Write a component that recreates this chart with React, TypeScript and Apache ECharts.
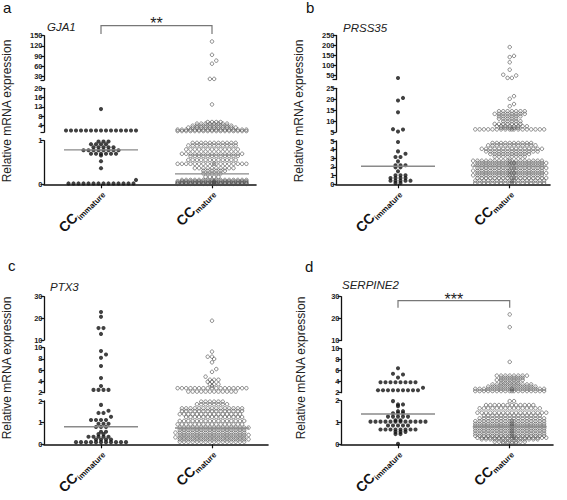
import React, { useEffect, useRef } from 'react';
import * as echarts from 'echarts';

type Row = [number, number]; // [value, number of dots at that value]

// ---------- texts ----------
const PANEL_LETTERS = ['a', 'b', 'c', 'd'];
const GENES = ['GJA1', 'PRSS35', 'PTX3', 'SERPINE2'];
const Y_TITLE = 'Relative mRNA expression';
const CATEGORY_PREFIX = 'CC';
const CATEGORY_KEYS = ['immature', 'mature'];
const SIGNIFICANCE = ['**', '', '', '***'];

// ---------- broken y axes: [min, max] per segment, bottom to top ----------
const GJA1_SEGMENTS = [[0, 1], [1, 20], [20, 150]];
const GJA1_TICKS = [[0, 1], [4, 8, 12, 16, 20], [30, 60, 90, 120, 150]];
const PRSS35_SEGMENTS = [[0, 5], [5, 25], [30, 250]];
const PRSS35_TICKS = [[0, 1, 2, 3, 4, 5], [5, 10, 15, 20, 25], [50, 100, 150, 200, 250]];
const PTX3_SEGMENTS = [[0, 2], [2, 10], [10, 30]];
const PTX3_TICKS = [[0, 1, 2], [2, 4, 6, 8, 10], [10, 20, 30]];
const SERPINE2_SEGMENTS = [[0, 2], [2, 10], [10, 30]];
const SERPINE2_TICKS = [[0, 1, 2], [2, 4, 6, 8, 10], [10, 20, 30]];

// ---------- data: rows of dots ----------
const GJA1_IMMATURE: Row[] = [
  [11, 1], [1.75, 15], [0.98, 3], [0.92, 4], [0.85, 5], [0.78, 8], [0.7, 6], [0.66, 1],
  [0.53, 1], [0.37, 1], [0.1, 1], [0.02, 14],
];
const GJA1_MATURE: Row[] = [
  [133, 1], [94, 1], [77, 1], [68, 1], [23.5, 2], [13, 1], [5.4, 4], [4.7, 8], [3.8, 10],
  [3.0, 12], [2.1, 17], [1.5, 17], [0.95, 11], [0.89, 12], [0.8, 13], [0.7, 15], [0.65, 12],
  [0.56, 12], [0.47, 18], [0.37, 10], [0.31, 6], [0.25, 5], [0.17, 4], [0.1, 16], [0.07, 18],
  [0.045, 18], [0.025, 18], [0.01, 18],
];
const PRSS35_IMMATURE: Row[] = [
  [37.5, 1], [20.6, 1], [19.4, 1], [14, 1], [6.3, 1], [6.1, 1], [5.2, 1], [4.88, 1], [3.8, 1],
  [3.53, 1], [3.15, 2], [2.65, 1], [2.2, 3], [1.96, 2], [1.5, 1], [1.05, 3], [0.73, 4],
  [0.42, 5], [0.15, 2],
];
const PRSS35_MATURE: Row[] = [
  [192, 1], [148, 1], [142, 1], [116, 1], [79, 1], [54, 1], [50, 1], [38, 2], [21.4, 1],
  [20.2, 1], [17.8, 1], [16.8, 1], [14.5, 7], [13.3, 8], [12.2, 6], [11.1, 5], [9.9, 5],
  [8.7, 7], [7.6, 8], [6.9, 5], [6.2, 18], [4.77, 10], [4.5, 12], [4.1, 15], [3.8, 13],
  [3.5, 10], [3.2, 8], [2.72, 18], [2.46, 18], [2.19, 18], [1.88, 18], [1.57, 18], [1.3, 18],
  [1.04, 18], [0.73, 18], [0.42, 18], [0.15, 18],
];
const PTX3_IMMATURE: Row[] = [
  [22.9, 1], [20.7, 1], [15.5, 2], [12.8, 1], [9.4, 1], [8.8, 1], [8.2, 1], [6.75, 1], [4.6, 1],
  [3.2, 1], [2.5, 4], [1.82, 1], [1.55, 1], [1.45, 2], [1.27, 1], [1.12, 4], [0.95, 3],
  [0.8, 3], [0.58, 2], [0.47, 2], [0.35, 5], [0.22, 4], [0.1, 11],
];
const PTX3_MATURE: Row[] = [
  [18.9, 1], [9.3, 1], [8.4, 2], [8.0, 1], [7.4, 1], [6.2, 1], [5.7, 1], [4.85, 1], [4.3, 3],
  [3.95, 2], [3.5, 3], [3.2, 1], [2.8, 17], [2.2, 12], [1.97, 6], [1.85, 8], [1.66, 15],
  [1.54, 15], [1.39, 15], [1.26, 14], [1.08, 16], [0.92, 16], [0.77, 17], [0.66, 16],
  [0.54, 17], [0.43, 17], [0.32, 17], [0.23, 17], [0.12, 16],
];
const SERPINE2_IMMATURE: Row[] = [
  [6.45, 1], [5.45, 1], [5.3, 1], [4.75, 1], [3.9, 8], [2.9, 1], [2.45, 9], [1.98, 1],
  [1.83, 2], [1.75, 1], [1.52, 2], [1.42, 3], [1.27, 5], [1.1, 2], [1.04, 12], [0.86, 5],
  [0.68, 8], [0.57, 3], [0.47, 2], [0.02, 1],
];
const SERPINE2_MATURE: Row[] = [
  [21.9, 1], [16.1, 1], [7.6, 1], [5.1, 8], [4.7, 6], [4.3, 7], [3.85, 5], [3.5, 10], [3.1, 12],
  [2.7, 18], [2.3, 18], [1.98, 2], [1.8, 12], [1.65, 15], [1.45, 17], [1.31, 14], [1.19, 16],
  [1.06, 18], [0.94, 18], [0.84, 18], [0.73, 18], [0.62, 18], [0.5, 18], [0.39, 18], [0.3, 18],
  [0.23, 14], [0.12, 8], [0.05, 4],
];

// medians [immature, mature]
const GJA1_MEDIANS = [0.79, 0.24];
const PRSS35_MEDIANS = [2.08, 2.1];
const PTX3_MEDIANS = [0.81, 0.75];
const SERPINE2_MEDIANS = [1.39, 0.8];

const SEGMENTS = [GJA1_SEGMENTS, PRSS35_SEGMENTS, PTX3_SEGMENTS, SERPINE2_SEGMENTS];
const TICKS = [GJA1_TICKS, PRSS35_TICKS, PTX3_TICKS, SERPINE2_TICKS];
const GROUPS: Row[][][] = [
  [GJA1_IMMATURE, GJA1_MATURE],
  [PRSS35_IMMATURE, PRSS35_MATURE],
  [PTX3_IMMATURE, PTX3_MATURE],
  [SERPINE2_IMMATURE, SERPINE2_MATURE],
];
const MEDIANS = [GJA1_MEDIANS, PRSS35_MEDIANS, PTX3_MEDIANS, SERPINE2_MEDIANS];

// ---------- layout (pixels) ----------
const FONT = '"Liberation Sans", Arial, Helvetica, sans-serif';
const LAYOUT = [
  { axisX: 44, axisEnd: 256, c1: 101, c2: 212, seg: [[184.3, 140.7], [132.2, 88.3], [80.1, 35.7]],
    letter: [3, 7], gene: [47, 27], title: [7, 111], bracket: { y: 25.7, drop: 34, starY: 23.5 } },
  { axisX: 336, axisEnd: 550, c1: 398, c2: 509.7, seg: [[184.3, 141], [132, 88.3], [79.5, 35.5]],
    letter: [306, 7.5], gene: [343, 27.5], title: [299, 111], bracket: null },
  { axisX: 44, axisEnd: 268, c1: 101, c2: 212, seg: [[444.3, 401], [392.7, 347.7], [340, 296.7]],
    letter: [8, 265.5], gene: [50, 287], title: [7, 368], bracket: null },
  { axisX: 341, axisEnd: 553, c1: 398, c2: 509.7, seg: [[444.3, 400.7], [392.7, 348.7], [340.5, 296.7]],
    letter: [305, 266], gene: [342, 285], title: [301, 368], bracket: { y: 300.7, drop: 307.7, starY: 299 } },
];
const DOT = [{ spacing: 5, size: 4.1 }, { spacing: 4.3, size: 3.5 }];
const MAX_HALF = 36;
const MEDIAN_HALF = 37;

function pixelY(p: number, v: number) {
  const segs = SEGMENTS[p];
  for (let s = 0; s < segs.length; s++) {
    if (v <= segs[s][1] || s === segs.length - 1) {
      const [mn, mx] = segs[s];
      const [pb, pt] = LAYOUT[p].seg[s];
      return { s, y: pb - ((v - mn) / (mx - mn)) * (pb - pt) };
    }
  }
  return { s: 0, y: 0 };
}

// beeswarm-like placement of dots in rows (GraphPad style)
function swarm(rows: Row[], p: number, spacing: number) {
  const placed: { x: number; y: number }[] = [];
  const out: { seg: number; value: number; dx: number }[] = [];
  const sorted = [...rows].sort((a, b) => a[0] - b[0]);
  const cost = (x: number, y: number) => {
    let c = 0;
    for (const q of placed) {
      const d = Math.hypot(q.x - x, q.y - y);
      if (d < spacing * 0.92) c += spacing - d;
    }
    return c;
  };
  for (const [v, n] of sorted) {
    const { s, y } = pixelY(p, v);
    if (n >= 2) {
      const perRow = Math.floor((2 * MAX_HALF) / spacing) + 1;
      let best: number[] = [];
      let bestCost = Infinity;
      for (const shift of [0, spacing / 2, -spacing / 2]) {
        const xs: number[] = [];
        for (let i = 0; i < n; i++) {
          const line = Math.floor(i / perRow);
          const k = i % perRow;
          const m = Math.min(perRow, n - line * perRow);
          xs.push((k - (m - 1) / 2) * spacing + shift + (line % 2 ? spacing / 2 : 0));
        }
        const c = xs.reduce((acc, x) => acc + cost(x, y), 0);
        if (c < bestCost - 1e-6) {
          bestCost = c;
          best = xs;
        }
      }
      for (const x of best) {
        placed.push({ x, y });
        out.push({ seg: s, value: v, dx: x });
      }
    } else {
      const cands = [0];
      for (let k = 1; (k * spacing) / 2 <= MAX_HALF; k++) cands.push((k * spacing) / 2, (-k * spacing) / 2);
      let bx = 0;
      let bc = Infinity;
      for (const x of cands) {
        const c = cost(x, y);
        if (c === 0) { bx = x; bc = 0; break; }
        if (c < bc) { bc = c; bx = x; }
      }
      placed.push({ x: bx, y });
      out.push({ seg: s, value: v, dx: bx });
    }
  }
  return out;
}

function buildOption() {
  const grid: any[] = [];
  const xAxis: any[] = [];
  const yAxis: any[] = [];
  const series: any[] = [];
  const graphic: any[] = [];

  LAYOUT.forEach((L, p) => {
    const unit = L.c2 - L.c1;
    const xmin = 1 - (L.c1 - L.axisX) / unit;
    const xmax = 2 + (L.axisEnd - L.c2) / unit;
    const base = grid.length;
    SEGMENTS[p].forEach((seg, s) => {
      const [pb, pt] = L.seg[s];
      grid.push({ left: L.axisX, top: pt, width: L.axisEnd - L.axisX, height: pb - pt, outerBoundsMode: 'none', containLabel: false });
      const bottom = s === 0;
      xAxis.push({
        type: 'value', gridIndex: base + s, min: xmin, max: xmax, show: bottom,
        splitLine: { show: false },
        axisLine: { show: bottom, onZero: false, lineStyle: { color: '#111', width: 1.6 } },
        axisTick: { show: bottom, customValues: [1, 2], length: 4, lineStyle: { color: '#111', width: 1.2 } },
        axisLabel: {
          show: bottom, customValues: [1, 2], rotate: 45, margin: 6,
          formatter: (v: number) => `{a|${CATEGORY_PREFIX}}{b|${CATEGORY_KEYS[Math.round(v) - 1]}}`,
          rich: {
            a: { fontSize: 14, fontWeight: 'bold', fontFamily: FONT, color: '#111', lineHeight: 15, verticalAlign: 'top' },
            b: { fontSize: 8, fontWeight: 'bold', fontFamily: FONT, color: '#111', lineHeight: 8, padding: [8, 0, 0, 0], verticalAlign: 'top' },
          },
        },
      });
      const labels = TICKS[p][s];
      const ticks = Array.from(new Set([seg[0], ...labels, seg[1]]));
      yAxis.push({
        type: 'value', gridIndex: base + s, min: seg[0], max: seg[1],
        splitLine: { show: false },
        axisLine: { show: true, onZero: false, lineStyle: { color: '#111', width: 1.3 } },
        axisTick: { show: true, customValues: ticks, length: 3.5, lineStyle: { color: '#111', width: 1.2 } },
        axisLabel: {
          customValues: labels, margin: 1.5, fontSize: 7.5, lineHeight: 7.5, fontWeight: 'bold', fontFamily: FONT, color: '#222',
        },
      });
    });

    GROUPS[p].forEach((rows, g) => {
      const dots = swarm(rows, p, DOT[g].spacing);
      SEGMENTS[p].forEach((_, s) => {
        const data = dots.filter((d) => d.seg === s).map((d) => [g + 1 + d.dx / unit, d.value]);
        series.push({
          type: 'scatter', xAxisIndex: base + s, yAxisIndex: base + s, data, clip: false, silent: true,
          symbol: 'circle', symbolSize: DOT[g].size,
          itemStyle: g === 0
            ? { color: '#111' }
            : { color: 'rgba(255,255,255,0)', borderColor: '#4a4a4a', borderWidth: 0.8 },
          z: 3,
        });
      });
      const m = MEDIANS[p][g];
      const { s } = pixelY(p, m);
      const hw = MEDIAN_HALF / unit;
      series.push({
        type: 'line', xAxisIndex: base + s, yAxisIndex: base + s, silent: true, symbol: 'none',
        data: [[g + 1 - hw, m], [g + 1 + hw, m]],
        lineStyle: { color: '#8a8a8a', width: 1.4 }, z: 4,
      });
    });

    graphic.push({
      type: 'text', x: L.letter[0], y: L.letter[1],
      style: { text: PANEL_LETTERS[p], font: `15px ${FONT}`, fill: '#111', align: 'left', verticalAlign: 'middle' },
    });
    graphic.push({
      type: 'text', x: L.gene[0], y: L.gene[1],
      style: { text: GENES[p], font: `italic 11.5px ${FONT}`, fill: '#222', align: 'left', verticalAlign: 'middle' },
    });
    graphic.push({
      type: 'text', x: L.title[0], y: L.title[1], rotation: Math.PI / 2,
      style: { text: Y_TITLE, font: `12px ${FONT}`, fill: '#222', align: 'center', verticalAlign: 'middle' },
    });
    if (L.bracket) {
      const B = L.bracket;
      graphic.push({
        type: 'polyline',
        shape: { points: [[L.c1, B.drop], [L.c1, B.y], [L.c2, B.y], [L.c2, B.drop]] },
        style: { stroke: '#777', lineWidth: 1.2, fill: null },
      });
      graphic.push({
        type: 'text', x: (L.c1 + L.c2) / 2, y: B.starY,
        style: { text: SIGNIFICANCE[p], font: `16px ${FONT}`, fill: '#222', align: 'center', verticalAlign: 'middle' },
      });
    }
  });

  return { animation: false, backgroundColor: '#fff', grid, xAxis, yAxis, series, graphic };
}

export default function App() {
  const ref = useRef<HTMLDivElement>(null);
  useEffect(() => {
    document.body.style.margin = '0';
    const chart = echarts.init(ref.current!, undefined, { renderer: 'svg' });
    chart.setOption(buildOption() as any);
    return () => chart.dispose();
  }, []);
  return <div ref={ref} style={{ width: 567, height: 500 }} />;
}
